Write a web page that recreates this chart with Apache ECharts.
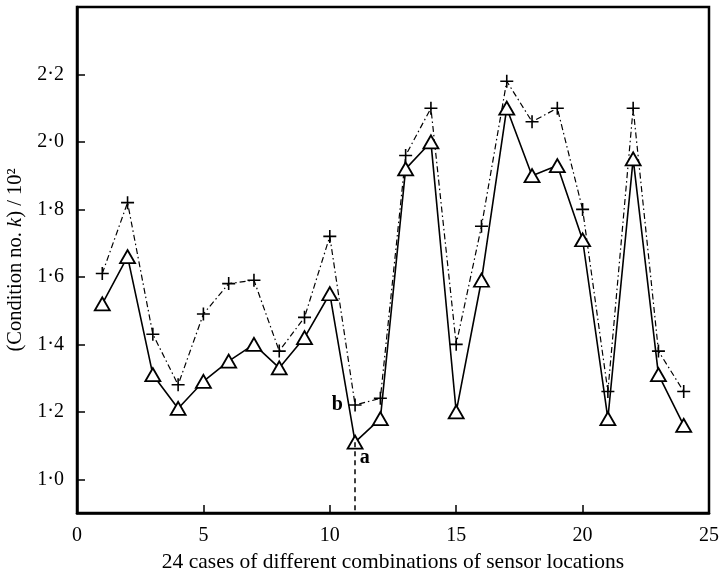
<!DOCTYPE html>
<html>
<head>
<meta charset="utf-8">
<script src="https://cdn.jsdelivr.net/npm/echarts@6/dist/echarts.min.js"></script>
<style>
  html, body { margin: 0; padding: 0; background: #fff; }
  #main { width: 721px; height: 577px; }
</style>
</head>
<body>
<div id="main"></div>
<script>
// case numbers 1..24
var cases = [1,2,3,4,5,6,7,8,9,10,11,12,13,14,15,16,17,18,19,20,21,22,23,24];
// curve a (triangles, solid)
var seriesA = [1.52,1.66,1.31,1.21,1.29,1.35,1.40,1.33,1.42,1.55,1.11,1.18,1.92,2.00,1.20,1.59,2.10,1.90,1.93,1.71,1.18,1.95,1.31,1.16];
// curve b (crosses, dash-dot)
var seriesB = [1.61,1.82,1.43,1.28,1.49,1.58,1.59,1.38,1.48,1.72,1.22,1.24,1.96,2.10,1.40,1.75,2.18,2.06,2.10,1.80,1.26,2.10,1.38,1.26];
var yTicks = [1.0,1.2,1.4,1.6,1.8,2.0,2.2];
// dashed drop line at case 11
var dropX = 11, dropTop = 1.11, dropBottom = 0.9;
var labelA = [11.38, 1.065];
var labelB = [10.3, 1.22];

var FONT = 'Liberation Serif';

function pairs(ys) {
  return cases.map(function (c, i) { return [c, ys[i]]; });
}

var plusPath = 'path://M0,-10 L0,10 M-10,0 L10,0';

var option = {
  animation: false,
  backgroundColor: '#fff',
  grid: { left: 77, right: 12, top: 7, bottom: 64, outerBoundsMode: 'none', show: true, borderColor: '#000', borderWidth: 2.5, backgroundColor: 'transparent' },
  xAxis: {
    type: 'value', min: 0, max: 25, interval: 5,
    name: '24 cases of different combinations of sensor locations',
    nameLocation: 'middle', nameGap: 31,
    nameTextStyle: { fontFamily: FONT, fontSize: 21.5, color: '#000' },
    axisLine: { show: true, onZero: false, lineStyle: { color: '#000', width: 2.5 } },
    axisTick: { inside: true, length: 8, lineStyle: { color: '#000', width: 1.5 } },
    axisLabel: { fontFamily: FONT, fontSize: 20, color: '#000', margin: 13 },
    splitLine: { show: false }
  },
  yAxis: {
    type: 'value', min: 0.9, max: 2.4,
    name: '(Condition no. {k|k}) / 10²',
    nameLocation: 'middle', nameGap: 44, nameRotate: 90,
    nameTextStyle: { fontFamily: FONT, fontSize: 20.5, color: '#000',
      rich: { k: { fontFamily: FONT, fontSize: 20.5, fontStyle: 'italic', color: '#000' } } },
    axisLine: { show: true, onZero: false, lineStyle: { color: '#000', width: 2.5 } },
    axisTick: { inside: true, length: 8, customValues: yTicks, lineStyle: { color: '#000', width: 1.5 } },
    axisLabel: { fontFamily: FONT, fontSize: 20, color: '#000', margin: 13, customValues: yTicks,
      formatter: function (v) { return v.toFixed(1).replace('.', '·'); } },
    splitLine: { show: false }
  },
  series: [
    {
      name: 'b', type: 'line', data: pairs(seriesB),
      symbol: plusPath, symbolSize: 13, z: 2,
      lineStyle: { color: '#000', width: 1.2, type: [6, 3, 1.5, 3] },
      itemStyle: { color: 'none', borderColor: '#000', borderWidth: 1.6 },
      markPoint: {
        symbol: 'circle', symbolSize: 0, silent: true,
        label: { show: true, position: 'inside', formatter: 'b', fontFamily: FONT, fontWeight: 'bold', fontSize: 20, color: '#000' },
        data: [{ coord: labelB }]
      }
    },
    {
      name: 'a', type: 'line', data: pairs(seriesA),
      symbol: 'triangle', symbolSize: [15, 13], z: 3,
      lineStyle: { color: '#000', width: 1.6 },
      itemStyle: { color: '#fff', borderColor: '#000', borderWidth: 1.8 },
      markLine: {
        symbol: 'none', silent: true, label: { show: false },
        lineStyle: { color: '#000', width: 1.5, type: [5, 4] },
        data: [[{ coord: [dropX, dropTop] }, { coord: [dropX, dropBottom] }]]
      },
      markPoint: {
        symbol: 'circle', symbolSize: 0, silent: true,
        label: { show: true, position: 'inside', formatter: 'a', fontFamily: FONT, fontWeight: 'bold', fontSize: 20, color: '#000' },
        data: [{ coord: labelA }]
      }
    }
  ]
};

var myChart = echarts.init(document.getElementById('main'));
myChart.setOption(option);
</script>
</body>
</html>
